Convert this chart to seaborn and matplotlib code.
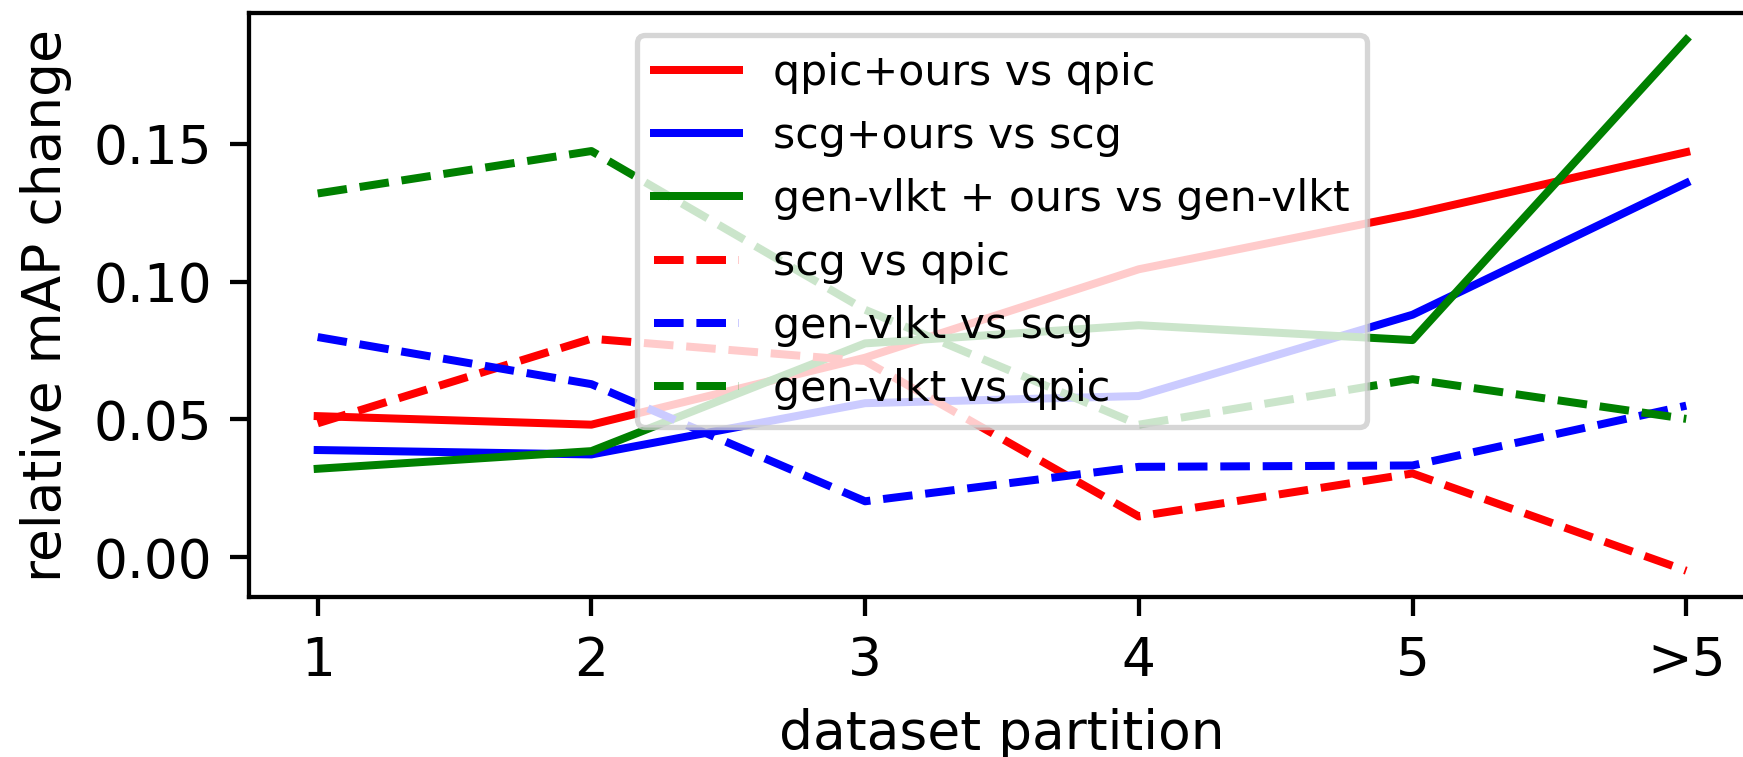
import matplotlib
matplotlib.use("Agg")
import matplotlib.pyplot as plt
import pandas as pd
import seaborn as sns

# partitions on the x axis
partitions = ["1", "2", "3", "4", "5", ">5"]

# relative mAP change per partition
qpic_ours_vs_qpic = [0.0512, 0.0481, 0.0724, 0.1045, 0.1245, 0.1470]
scg_ours_vs_scg = [0.0389, 0.0373, 0.0559, 0.0585, 0.0880, 0.1358]
genvlkt_ours_vs_genvlkt = [0.0321, 0.0385, 0.0776, 0.0842, 0.0788, 0.1878]
scg_vs_qpic = [0.0486, 0.0793, 0.0712, 0.0148, 0.0304, -0.0049]
genvlkt_vs_scg = [0.0799, 0.0628, 0.0203, 0.0328, 0.0333, 0.0550]
genvlkt_vs_qpic = [0.1320, 0.1474, 0.0898, 0.0481, 0.0646, 0.0502]

series = [
    ("qpic+ours vs qpic", qpic_ours_vs_qpic, "r", "-"),
    ("scg+ours vs scg", scg_ours_vs_scg, "b", "-"),
    ("gen-vlkt + ours vs gen-vlkt", genvlkt_ours_vs_genvlkt, "g", "-"),
    ("scg vs qpic", scg_vs_qpic, "r", "--"),
    ("gen-vlkt vs scg", genvlkt_vs_scg, "b", "--"),
    ("gen-vlkt vs qpic", genvlkt_vs_qpic, "g", "--"),
]

fig = plt.figure(figsize=(1743 / 384, 757 / 384), dpi=384)
ax = fig.add_axes([0.1430, 0.2110, 0.8637, 0.7716])

for label, values, color, ls in series:
    df = pd.DataFrame({"partition": partitions, "value": values})
    sns.lineplot(data=df, x="partition", y="value", color=color,
                 linestyle=ls, linewidth=1.5, label=label, ax=ax)

ax.set_xlabel("dataset partition")
ax.set_ylabel("relative mAP change")
ax.set_yticks([0.0, 0.05, 0.10, 0.15])
ax.legend(loc="upper center", fontsize=8)

fig.savefig("out.png", dpi=384)
